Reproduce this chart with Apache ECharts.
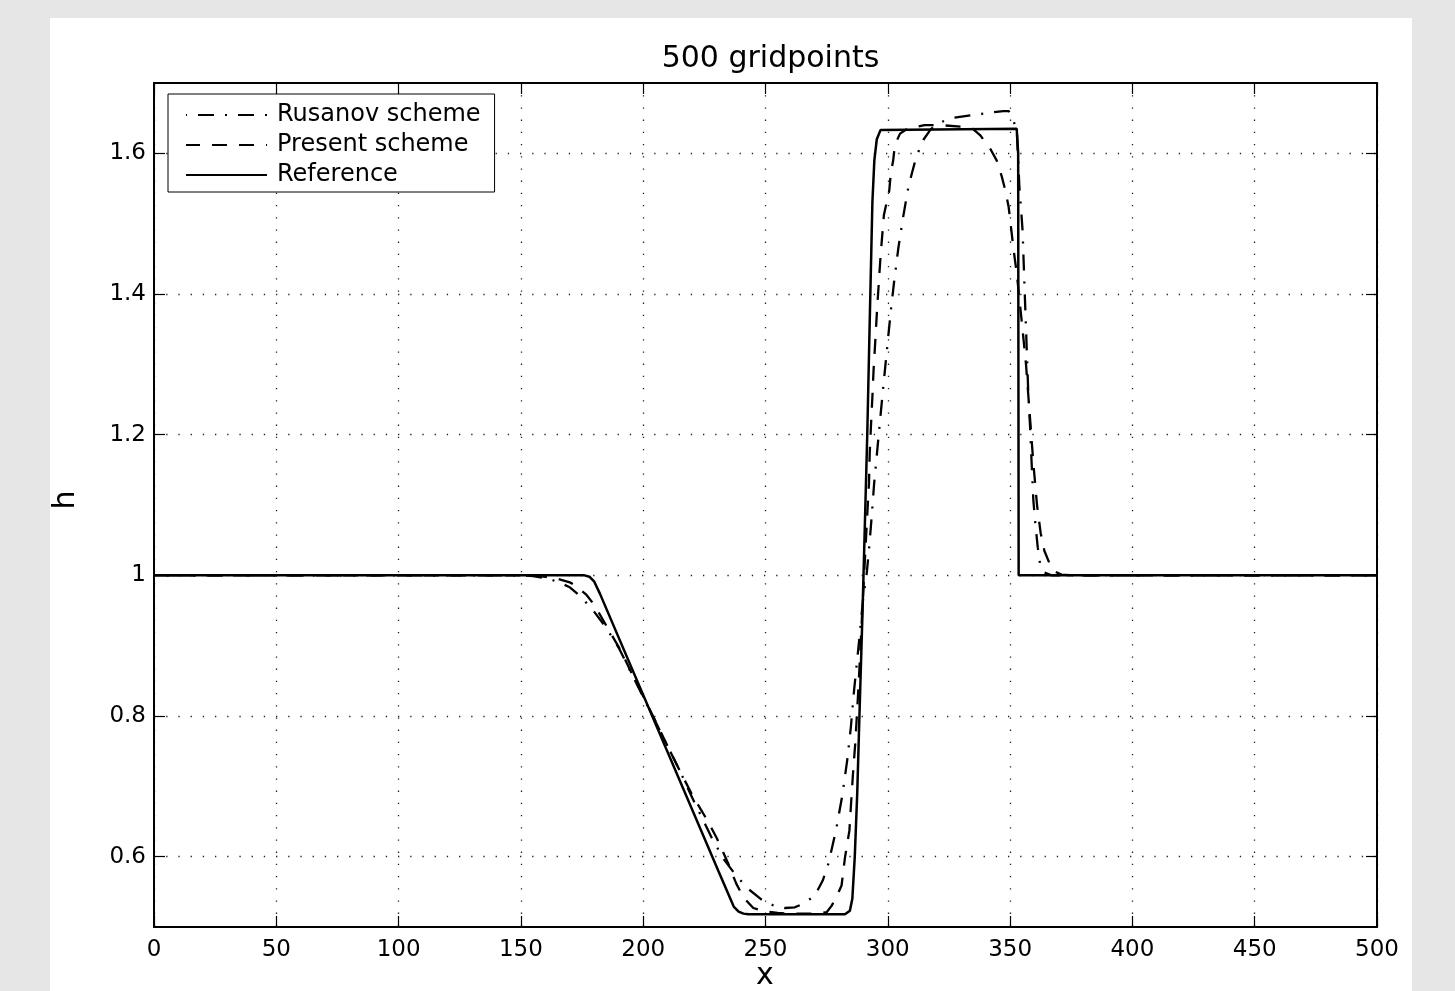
<!DOCTYPE html>
<html>
<head>
<meta charset="utf-8">
<script src="https://cdn.jsdelivr.net/npm/echarts@6/dist/echarts.min.js"></script>
<style>
  html, body { margin: 0; padding: 0; background: #e6e6e6; }
  #paper { position: absolute; left: 50px; top: 18px; width: 1362px; height: 973px; background: #fff; }
  #main { position: absolute; left: 0; top: 0; width: 1455px; height: 991px; }
</style>
</head>
<body>
<div id="paper"></div>
<div id="main"></div>
<script>
// x positions and h values
const refX = [0, 176, 178, 180, 182.3, 230.7, 237, 239, 241, 243, 282.5, 284.5, 285.5, 286.5, 287.5, 288.4, 289.6, 290.3, 291.6, 292.6, 293.7, 294.5, 295.5, 297, 352.7, 353.3, 353.5, 500]
const refH = [1, 1, 0.998, 0.991, 0.974, 0.58, 0.529, 0.522, 0.519, 0.518, 0.518, 0.523, 0.54, 0.6, 0.69, 0.8, 0.94, 1.03, 1.2, 1.36, 1.53, 1.59, 1.62, 1.633, 1.635, 1.6, 1.0, 1]

const rusX = [0, 150, 155, 160, 165, 170, 175, 180, 185, 190, 195, 200, 205, 210, 215, 220, 224.5, 228, 232.8, 238, 243, 248.4, 253, 258, 262, 266, 270.2, 273.4, 275.7, 278.8, 281.4, 283.4, 284.9, 286.2, 288.3, 290, 291.3, 292.3, 293.4, 294.4, 295.7, 297.1, 298.4, 299.8, 301.2, 302.5, 304.3, 306.3, 308.4, 309.8, 311.1, 312.5, 314.5, 317.3, 320, 326, 331.6, 336.3, 342.4, 347.2, 349.5, 350.6, 352.7, 353.8, 354.5, 355.1, 356, 357.4, 358.1, 358.8, 359.5, 360.3, 361.3, 362.3, 364, 367, 500]
const rusH = [1, 1, 0.999, 0.996, 0.991, 0.983, 0.968, 0.948, 0.925, 0.897, 0.862, 0.827, 0.792, 0.757, 0.722, 0.684, 0.652, 0.627, 0.597, 0.573, 0.554, 0.539, 0.531, 0.527, 0.528, 0.534, 0.545, 0.566, 0.59, 0.637, 0.687, 0.737, 0.784, 0.836, 0.908, 0.97, 1.0, 1.036, 1.083, 1.13, 1.178, 1.23, 1.277, 1.326, 1.375, 1.415, 1.465, 1.51, 1.552, 1.571, 1.588, 1.602, 1.619, 1.633, 1.642, 1.65, 1.653, 1.655, 1.658, 1.66, 1.66, 1.652, 1.635, 1.552, 1.52, 1.49, 1.4, 1.263, 1.216, 1.16, 1.107, 1.074, 1.04, 1.015, 1.004, 1.0, 1]

const preX = [0, 155, 160, 165, 170, 172.1, 176.6, 180, 185, 190.5, 195, 200, 205, 210, 215, 220, 226.5, 230, 234.8, 238, 241, 245, 250, 255, 260, 270, 275, 277, 279, 281.1, 282.5, 284.3, 285.1, 285.9, 286.7, 288, 289, 290, 290.6, 291.5, 292.3, 292.6, 293.1, 293.7, 294.2, 294.9, 295.6, 296.3, 297.1, 298.4, 299.5, 300.6, 301.2, 302.2, 302.9, 305, 308, 315, 322, 330, 334.3, 337.7, 341.8, 344.5, 346.6, 348, 349.4, 350.6, 351.3, 352, 352.7, 354.7, 356.5, 358, 359.5, 361, 362.5, 364, 366, 368, 371, 375, 500]
const preH = [1, 1, 0.998, 0.995, 0.99, 0.986, 0.973, 0.958, 0.928, 0.895, 0.863, 0.828, 0.793, 0.757, 0.722, 0.688, 0.65, 0.627, 0.59, 0.562, 0.542, 0.527, 0.522, 0.52, 0.519, 0.519, 0.521, 0.53, 0.543, 0.559, 0.599, 0.637, 0.682, 0.725, 0.761, 0.84, 0.91, 0.98, 1.02, 1.08, 1.13, 1.173, 1.211, 1.254, 1.293, 1.334, 1.377, 1.415, 1.457, 1.512, 1.53, 1.547, 1.571, 1.59, 1.612, 1.628, 1.635, 1.64, 1.64, 1.638, 1.636, 1.626, 1.607, 1.59, 1.567, 1.548, 1.524, 1.488, 1.467, 1.448, 1.43, 1.363, 1.3, 1.23, 1.16, 1.1, 1.06, 1.035, 1.018, 1.006, 1.001, 1.0, 1]

const hTicks = [0.6, 0.8, 1, 1.2, 1.4, 1.6]
const names = ['Rusanov scheme', 'Present scheme', 'Reference']

const font = "'DejaVu Sans', Verdana, sans-serif"
const pair = (xs, hs) => xs.map((x, i) => [x, hs[i]])

const chart = echarts.init(document.getElementById('main'))

const gridLine = { show: true, lineStyle: { color: '#222', width: 1.3, type: [1.3, 10.9] } }
const axisLine = { show: true, onZero: false, lineStyle: { color: '#000', width: 2 } }
const tick = { show: true, inside: true, length: 11, lineStyle: { color: '#000', width: 1.2 } }

const option = {
  animation: false,
  title: {
    text: '500 gridpoints',
    left: 765.5,
    top: 39,
    textAlign: 'center',
    textStyle: { fontFamily: font, fontSize: 30, fontWeight: 'normal', color: '#000' }
  },
  legend: {
    orient: 'vertical',
    left: 168,
    top: 94,
    padding: [9, 14, 5, 17],
    itemGap: 6,
    itemWidth: 81,
    itemHeight: 14,
    borderColor: '#000',
    borderWidth: 1,
    borderRadius: 0,
    backgroundColor: '#fff',
    itemStyle: { opacity: 0 },
    data: names,
    textStyle: { fontFamily: font, fontSize: 24, color: '#000', padding: [0, 0, 0, 5] }
  },
  grid: { left: 154, right: 78, top: 83, bottom: 64 },
  xAxis: [
    {
      type: 'value', min: 0, max: 500, interval: 50, position: 'bottom',
      axisLine: axisLine, axisTick: tick,
      axisLabel: { color: '#000', fontFamily: font, fontSize: 23, margin: 12 },
      splitLine: gridLine
    },
    {
      type: 'value', min: 0, max: 500, interval: 50, position: 'top',
      axisLine: axisLine, axisTick: tick,
      axisLabel: { show: false }, splitLine: { show: false }
    }
  ],
  yAxis: [
    {
      type: 'value', min: 0.5, max: 1.7, position: 'left',
      axisLine: axisLine,
      axisTick: Object.assign({ customValues: hTicks }, tick),
      axisLabel: {
        customValues: hTicks, color: '#000', fontFamily: font, fontSize: 23, margin: 8,
        formatter: v => String(+(+v).toFixed(1))
      },
      splitLine: gridLine
    },
    {
      type: 'value', min: 0.5, max: 1.7, position: 'right',
      axisLine: axisLine,
      axisTick: Object.assign({ customValues: hTicks }, tick),
      axisLabel: { show: false }, splitLine: { show: false }
    }
  ],
  graphic: [
    {
      type: 'text', x: 765, y: 976,
      style: { text: 'x', fontFamily: font, fontSize: 30, fill: '#000', align: 'center', verticalAlign: 'middle' }
    },
    {
      type: 'text', x: 66, y: 500, rotation: Math.PI / 2,
      style: { text: 'h', fontFamily: font, fontSize: 30, fill: '#000', align: 'center', verticalAlign: 'middle' }
    }
  ],
  series: [
    {
      name: names[0], type: 'line', symbol: 'none', data: pair(rusX, rusH),
      lineStyle: { color: '#000', width: 2.3, type: [16, 11, 2, 11], dashOffset: 28 },
      itemStyle: { color: '#000' }
    },
    {
      name: names[1], type: 'line', symbol: 'none', data: pair(preX, preH),
      lineStyle: { color: '#000', width: 2.3, type: [15, 12] },
      itemStyle: { color: '#000' }
    },
    {
      name: names[2], type: 'line', symbol: 'none', data: pair(refX, refH),
      lineStyle: { color: '#000', width: 2.5, type: 'solid' },
      itemStyle: { color: '#000' }
    }
  ]
}

chart.setOption(option)
</script>
</body>
</html>
